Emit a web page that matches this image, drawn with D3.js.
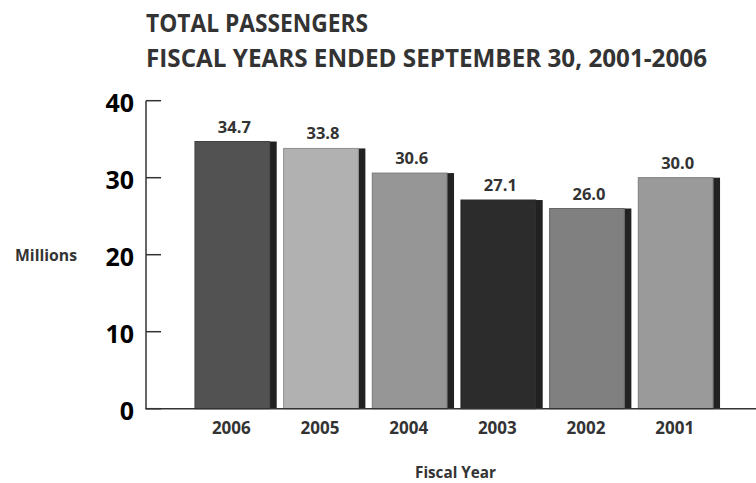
<!DOCTYPE html>
<html><head><meta charset="utf-8">
<script src="https://cdn.jsdelivr.net/npm/d3@7/dist/d3.min.js"></script>
<style>body{margin:0;background:#fff}svg{display:block}</style>
</head><body>
<svg id="c" width="756" height="483"></svg>
<script>
const years = ["2006","2005","2004","2003","2002","2001"];
const passengers = [34.7, 33.8, 30.6, 27.1, 26.0, 30.0];
const barColors = ["#525252","#b1b1b1","#969696","#2c2c2c","#808080","#9a9a9a"];
const yTicks = [0,10,20,30,40];
const titleLines = ["TOTAL PASSENGERS","FISCAL YEARS ENDED SEPTEMBER 30, 2001-2006"];

const svg = d3.select("#c");
const font = "'Open Sans', 'DejaVu Sans', sans-serif";
const y = d3.scaleLinear().domain([0,40]).range([408.7,100.7]);
const x = d3.scaleBand().domain(years).range([191.5,723.5]).paddingInner(0.078).paddingOuter(0.039);
const shadowW = 7;
const mainW = x.bandwidth() - shadowW;

// title
svg.append("text").attr("x",146).attr("y",31.5).attr("font-family",font).attr("font-weight",700)
  .attr("font-size",25.5).attr("fill","#333").attr("textLength",222).attr("lengthAdjust","spacingAndGlyphs").text(titleLines[0]);
svg.append("text").attr("x",146).attr("y",66.5).attr("font-family",font).attr("font-weight",700)
  .attr("font-size",25.5).attr("fill","#333").attr("textLength",561).attr("lengthAdjust","spacingAndGlyphs").text(titleLines[1]);

// bars
const g = svg.append("g");
years.forEach((yr,i)=>{
  const x0 = x(yr), top = y(passengers[i]), base = y(0);
  g.append("rect").attr("x",x0+mainW).attr("y",top).attr("width",shadowW).attr("height",base-top).attr("fill","#222");
  g.append("rect").attr("x",x0).attr("y",top).attr("width",mainW).attr("height",base-top)
    .attr("fill",barColors[i]).attr("stroke",d3.color(barColors[i]).darker(0.6)).attr("stroke-width",1);
  g.append("text").attr("x",x0+mainW/2+2).attr("y",top-9).attr("text-anchor","middle")
    .attr("font-family",font).attr("font-weight",700).attr("font-size",16.5).attr("fill","#333")
    .text(passengers[i].toFixed(1));
  g.append("text").attr("x",x0+mainW/2-1).attr("y",434).attr("text-anchor","middle")
    .attr("font-family",font).attr("font-weight",700).attr("font-size",17).attr("fill","#333").text(yr);
});

// y axis
const axisG = svg.append("g");
axisG.append("line").attr("x1",146).attr("x2",146).attr("y1",y(40)).attr("y2",y(0)).attr("stroke","#333").attr("stroke-width",1.5);
axisG.append("line").attr("x1",145.3).attr("x2",756).attr("y1",y(0)).attr("y2",y(0)).attr("stroke","#333").attr("stroke-width",1.5);
yTicks.forEach(t=>{
  axisG.append("line").attr("x1",146).attr("x2",161).attr("y1",y(t)).attr("y2",y(t)).attr("stroke","#333").attr("stroke-width",1.5);
  axisG.append("text").attr("x",134).attr("y",y(t)+11.5).attr("text-anchor","end")
    .attr("font-family",font).attr("font-weight",700).attr("font-size",25).attr("fill","#000").text(t);
});

// axis titles
svg.append("text").attr("x",15).attr("y",261).attr("font-family",font).attr("font-weight",700)
  .attr("font-size",15.5).attr("fill","#333").attr("textLength",62).attr("lengthAdjust","spacingAndGlyphs").text("Millions");
svg.append("text").attr("x",415).attr("y",478).attr("font-family",font).attr("font-weight",700)
  .attr("font-size",15.5).attr("fill","#333").attr("textLength",81).attr("lengthAdjust","spacingAndGlyphs").text("Fiscal Year");
</script>
</body></html>
